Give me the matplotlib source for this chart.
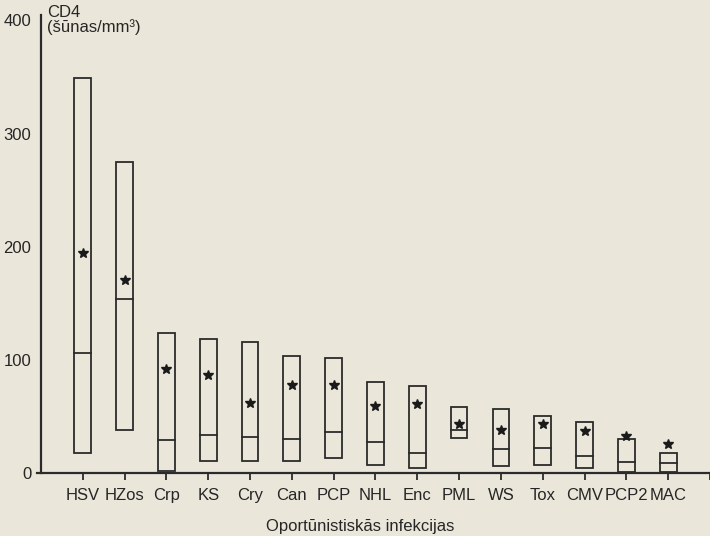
import matplotlib

matplotlib.use("Agg")

import matplotlib.pyplot as plt
import numpy as np

# CD4 counts by opportunistic infection: range (box), median (line), mean (star)
infections = ["HSV", "HZos", "Crp", "KS", "Cry", "Can", "PCP", "NHL",
              "Enc", "PML", "WS", "Tox", "CMV", "PCP2", "MAC"]
cd4_low = [18, 38, 2, 11, 11, 11, 13, 7, 4, 31, 6, 7, 4, 1, 1]
cd4_high = [349, 275, 124, 118, 116, 103, 102, 80, 77, 58, 57, 50, 45, 30, 18]
cd4_median = [106, 154, 29, 34, 32, 30, 36, 27, 18, 38, 21, 22, 15, 10, 9]
cd4_mean = [194, 171, 92, 87, 62, 78, 78, 59, 61, 43, 38, 43, 37, 33, 26]

plt.rcParams["font.family"] = ["Liberation Sans", "DejaVu Sans"]

bg = "#eae6da"
ink = "#2b2b2b"
text_color = "#262626"

fig = plt.figure(figsize=(7.10, 5.36), dpi=100, facecolor=bg)
ax = fig.add_axes([0.0, 0.1175, 1.0, 0.855], facecolor=bg)

positions = np.arange(1, len(infections) + 1)
half_w = 0.2
for x, lo, hi, med in zip(positions, cd4_low, cd4_high, cd4_median):
    ax.add_patch(plt.Rectangle((x - half_w, lo), 2 * half_w, hi - lo,
                               fill=False, edgecolor=ink, linewidth=1.3))
    ax.plot([x - half_w, x + half_w], [med, med], color=ink, linewidth=1.3)
ax.plot(positions, cd4_mean, linestyle="none", marker="*", markersize=7,
        color="#1a1a1a")

ax.set_xlim(-0.98, 16.0)
ax.set_ylim(0, 405)
ax.spines["left"].set_position(("data", 0))
ax.spines["left"].set_bounds(0, 405)
ax.spines["bottom"].set_bounds(-0.1, 16.0)
ax.spines["top"].set_visible(False)
ax.spines["right"].set_visible(False)
for side in ("left", "bottom"):
    ax.spines[side].set_linewidth(1.6)
    ax.spines[side].set_color(ink)

ax.set_xticks(list(positions) + [16], infections + [""])
ax.set_yticks([0, 100, 200, 300, 400])
ax.tick_params(axis="x", direction="out", length=5, width=1.3, color=ink,
               labelsize=12, pad=6, labelcolor=text_color)
ax.tick_params(axis="y", length=0, labelsize=12, pad=7, labelcolor=text_color)

ax.text(0.15, 414, "CD4\n(šūnas/mm³)", fontsize=12, color=text_color,
        va="top", ha="left", linespacing=0.95)
fig.text(0.507, 0.004, "Oportūnistiskās infekcijas", fontsize=12,
         color=text_color, ha="center", va="bottom")

fig.savefig("out.png", dpi=100, facecolor=bg)
